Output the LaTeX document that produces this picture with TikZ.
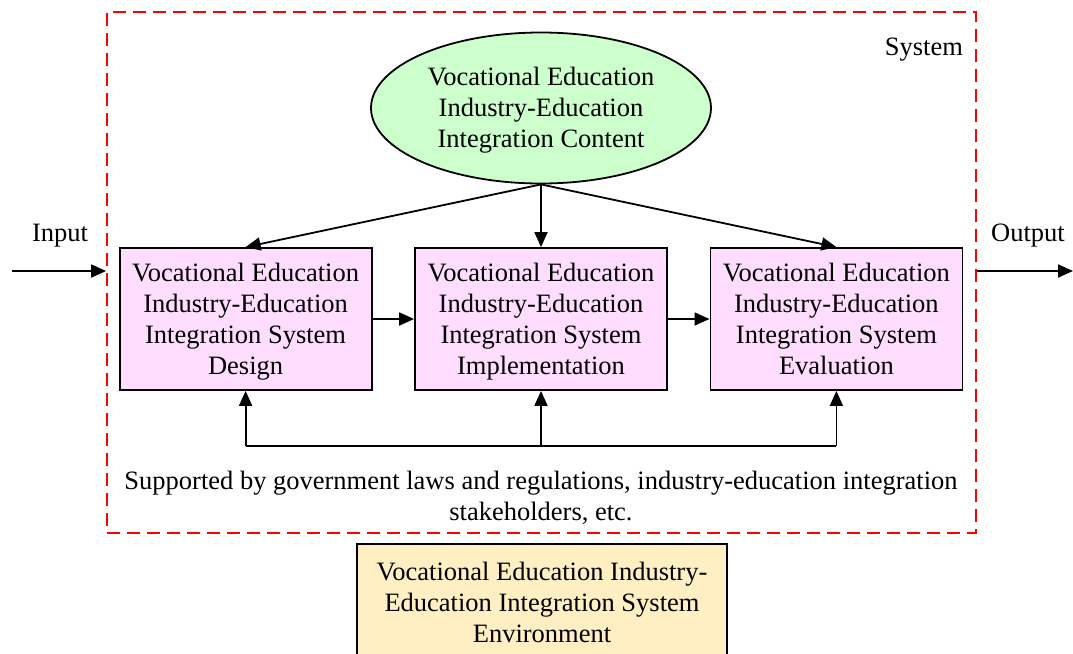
\documentclass[tikz,border=0pt]{standalone}
\usepackage{fontspec}
\setmainfont{Liberation Serif}
\usetikzlibrary{arrows.meta,positioning,shapes.geometric}

\definecolor{stagepink}{RGB}{255,221,255}
\definecolor{contentgreen}{RGB}{204,255,204}
\definecolor{envyellow}{RGB}{255,239,194}

% extra room above the first line of a text block
\newcommand{\topstrut}{\rule{0pt}{13.5pt}}

\begin{document}
\begin{tikzpicture}[x=0.5pt,y=-0.5pt,node distance=20.8pt,
	every node/.style={font=\fontsize{13.25pt}{15.5pt}\selectfont},
	arr/.style={-{Triangle[length=7.5pt,width=6.5pt]},line width=0.9pt}]
	\tikzstyle{stage}
	  =[draw, rectangle, fill=stagepink, line width=0.9pt, align=center,
	    minimum width=126pt, minimum height=71pt, inner sep=0pt,
	    execute at end node=\strut]
	\tikzstyle{frame}
	  =[draw=red, rectangle, line width=0.9pt, dash pattern=on 6.5pt off 3.5pt,
	    minimum width=434.5pt, minimum height=260.5pt, inner sep=0pt]

	\useasboundingbox (0,0) rectangle (1073,654);

	\node[frame] (system)
	  at (541.5,272.5) {};
	\node[anchor=east] (system_label)
	  at (970,50) {System};

	\node[draw, ellipse, fill=contentgreen, line width=0.9pt, align=center,
	      minimum width=170pt, minimum height=75.5pt, inner sep=0pt] (content)
	  at (541,108) {\topstrut Vocational Education\\Industry-Education\\Integration Content\strut};

	\node[stage] (implementation)
	  at (541,319) {\topstrut Vocational Education\\Industry-Education\\Integration System\\Implementation};
	\node[stage] (design)
	  [left=of implementation] {\topstrut Vocational Education\\Industry-Education\\Integration System\\Design};
	\node[stage] (evaluation)
	  [right=of implementation] {\topstrut Vocational Education\\Industry-Education\\Integration System\\Evaluation};

	\coordinate (bus) at (541,446);
	\node[align=center] (support)
	  at (541,498) {Supported by government laws and regulations, industry-education integration\\stakeholders, etc.};

	\node[draw, rectangle, fill=envyellow, line width=0.9pt, align=center,
	      minimum width=185pt, minimum height=58pt, inner sep=0pt] (environment)
	  at (542,602) {Vocational Education Industry-\\Education Integration System\\Environment};

	\coordinate (in_start) at (12,271);
	\coordinate (out_end) at (1073,271);
	\node[] (input)
	  at (60,236) {Input};
	\node[] (output)
	  at (1028,236) {Output};

	\draw[arr] (in_start) -- (in_start -| system.west);
	\draw[arr] (system.east |- out_end) -- (out_end);

	\draw[arr] (content.south) -- (design.north);
	\draw[arr] (content.south) -- (implementation.north);
	\draw[arr] (content.south) -- (evaluation.north);

	\draw[arr] (design) -- (implementation);
	\draw[arr] (implementation) -- (evaluation);

	\draw[line width=0.9pt] (design.south |- bus) -- (evaluation.south |- bus);
	\draw[arr] (design.south |- bus) -- (design.south);
	\draw[arr] (bus) -- (implementation.south);
	\draw[arr] (evaluation.south |- bus) -- (evaluation.south);
\end{tikzpicture}
\end{document}
